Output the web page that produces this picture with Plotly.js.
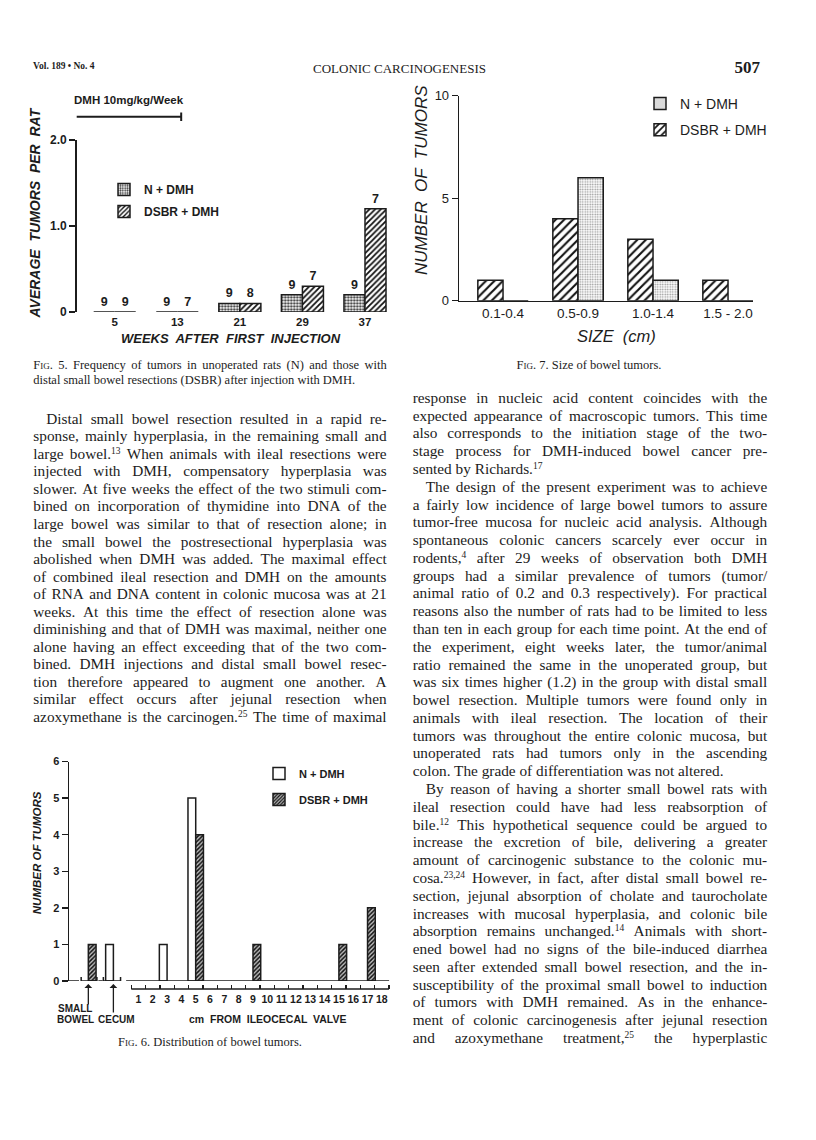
<!DOCTYPE html>
<html>
<head>
<meta charset="utf-8">
<script src="https://cdn.plot.ly/plotly-3.0.1.min.js"></script>
<style>
  body { margin: 0; background: #fff; }
  #page { position: relative; width: 816px; height: 1140px; overflow: hidden; background: #fff;
          font-family: "Liberation Serif", "Times New Roman", serif; color: #1c1c1c; }
  #chart { position: absolute; left: 0; top: 0; width: 816px; height: 1140px; }
  .ln { position: absolute; box-sizing: border-box; white-space: nowrap; }
  .ln.j { display: flex; justify-content: space-between; }
  sup { font-size: 0.62em; line-height: 0; vertical-align: 0.5em; }
  .sc { font-variant: small-caps; }
</style>
</head>
<body>
<div id="page">
  <div id="chart"></div>
</div>
<script>
// Fig. 5 - average tumors per rat, by weeks after first injection
const fig5Weeks = [5, 13, 21, 29, 37];
const fig5N = [0, 0, 0.1, 0.2, 0.2];
const fig5DSBR = [0, 0, 0.1, 0.3, 1.2];
const fig5NRats = [9, 9, 9, 9, 9];
const fig5DSBRRats = [9, 7, 8, 7, 7];
const fig5DmhWeeks = [0, 13];

// Fig. 7 - size of bowel tumors
const fig7Sizes = ["0.1-0.4", "0.5-0.9", "1.0-1.4", "1.5 - 2.0"];
const fig7N = [0, 6, 1, 0];
const fig7DSBR = [1, 4, 3, 1];

// Fig. 6 - distribution of bowel tumors (small bowel, cecum, then cm from ileocecal valve)
const fig6Sites = ["SMALL BOWEL", "CECUM", "1", "2", "3", "4", "5", "6", "7", "8", "9",
                   "10", "11", "12", "13", "14", "15", "16", "17", "18"];
const fig6N =    [0, 1, 0, 0, 1, 0, 5, 0, 0, 0, 0, 0, 0, 0, 0, 0, 0, 0, 0, 0];
const fig6DSBR = [1, 0, 0, 0, 0, 0, 4, 0, 0, 0, 1, 0, 0, 0, 0, 0, 1, 0, 2, 0];

const INK = "#1c1c1c";
const SANS = "Liberation Sans, Arial, sans-serif";
const W = 816, H = 1140;
const px = v => v / W;
const py = v => 1 - v / H;

// where each fig 6 site sits on the shared x axis
function sitePos(s) {
  if (s === "SMALL BOWEL") return -2.5;
  if (s === "CECUM") return -0.75;
  return Number(s);
}

const GAP = 0.328;
const bw5 = 8 * (1 - GAP) / 2;
const emptyWeekTicks = [];
fig5Weeks.forEach((w, i) => {
  if (fig5N[i] === 0 && fig5DSBR[i] === 0) emptyWeekTicks.push(w - bw5, w, w + bw5);
});

const bold = (size, extra) => Object.assign({ family: SANS, size: size, weight: "bold", color: INK }, extra || {});
const reg = (size, extra) => Object.assign({ family: SANS, size: size, color: INK }, extra || {});

const w6 = 0.54;
const f6N = fig6Sites.map((s, i) => ({ x: sitePos(s), y: fig6N[i] })).filter(d => d.y > 0);
const f6D = fig6Sites.map((s, i) => ({ x: sitePos(s), y: fig6DSBR[i] })).filter(d => d.y > 0);

const traces = [
  {
    type: "bar", name: "N + DMH", x: fig5Weeks, y: fig5N, xaxis: "x", yaxis: "y",
    text: fig5NRats.map(String), textposition: "outside", cliponaxis: false,
    textfont: bold(12.5), legend: "legend", legendgroup: "a1",
    marker: { color: "#fff", line: { color: INK, width: 1.5 },
              pattern: { shape: ".", fgcolor: "#333", bgcolor: "#fff", size: 3, solidity: 0.45 } }
  },
  {
    type: "bar", name: "DSBR + DMH", x: fig5Weeks, y: fig5DSBR, xaxis: "x", yaxis: "y",
    text: fig5DSBRRats.map(String), textposition: "outside", cliponaxis: false,
    textfont: bold(12.5), legend: "legend", legendgroup: "a2",
    marker: { color: "#fff", line: { color: INK, width: 1.5 },
              pattern: { shape: "/", fgcolor: "#111", bgcolor: "#fff", size: 4, solidity: 0.45 } }
  },
  {
    type: "bar", name: "DSBR + DMH", x: fig7Sizes, y: fig7DSBR, xaxis: "x2", yaxis: "y2",
    legend: "legend2", legendgroup: "b2", legendrank: 2,
    marker: { color: "#fff", line: { color: INK, width: 1.5 },
              pattern: { shape: "/", fgcolor: "#111", bgcolor: "#fff", size: 6, solidity: 0.35 } }
  },
  {
    type: "bar", name: "N + DMH", x: fig7Sizes, y: fig7N, xaxis: "x2", yaxis: "y2",
    legend: "legend2", legendgroup: "b1", legendrank: 1,
    marker: { color: "#fff", line: { color: INK, width: 1.5 },
              pattern: { shape: ".", fgcolor: "#999", bgcolor: "#fff", size: 2.5, solidity: 0.35 } }
  },
  {
    type: "bar", name: "N + DMH", x: f6N.map(d => d.x), y: f6N.map(d => d.y), xaxis: "x3", yaxis: "y3",
    width: w6, offset: -w6, legend: "legend3", legendgroup: "c1",
    marker: { color: "#fff", line: { color: INK, width: 1.5 } }
  },
  {
    type: "bar", name: "DSBR + DMH", x: f6D.map(d => d.x), y: f6D.map(d => d.y), xaxis: "x3", yaxis: "y3",
    width: w6, offset: 0, legend: "legend3", legendgroup: "c2",
    marker: { color: "#fff", line: { color: INK, width: 1.5 },
              pattern: { shape: "/", fgcolor: "#111", bgcolor: "#bbb", size: 3, solidity: 0.5 } }
  }
];

const halfTicks = [];
for (let k = 0; k <= 18; k++) halfTicks.push(k + 0.5);
const cmTicks = fig6Sites.filter(s => !isNaN(Number(s))).map(Number);

const noGrid = { showgrid: false, zeroline: false };
const lineStyle = { type: "line", line: { color: INK, width: 1.5 } };

// centred paper-positioned label
const label = (x, y, text, font, extra) => Object.assign({
  xref: "paper", yref: "paper", x: px(x), y: py(y), xanchor: "center", yanchor: "middle",
  showarrow: false, text: text, font: font
}, extra || {});

const layout = {
  width: W, height: H,
  margin: { l: 0, r: 0, t: 0, b: 0 },
  paper_bgcolor: "rgba(0,0,0,0)", plot_bgcolor: "rgba(0,0,0,0)",
  barmode: "group", bargap: GAP, bargroupgap: 0,
  showlegend: true,
  xaxis: Object.assign({}, noGrid, {
    domain: [px(76.7), px(389)], range: [0.14, 40.07], anchor: "y",
    tickmode: "array", tickvals: fig5Weeks, ticks: "", showline: false,
    ticklabelstandoff: 1, tickfont: bold(11.5)
  }),
  xaxis4: Object.assign({}, noGrid, {
    overlaying: "x", anchor: "y", range: [0.14, 40.07],
    tickmode: "array", tickvals: emptyWeekTicks, ticks: "inside", ticklen: 4,
    tickwidth: 1.5, tickcolor: INK, showticklabels: false, showline: false
  }),
  yaxis: Object.assign({}, noGrid, {
    domain: [py(312), py(140)], range: [0, 2], anchor: "x",
    tickmode: "array", tickvals: [0, 1, 2], ticktext: ["0", "1.0", "2.0"],
    ticks: "outside", ticklen: 6, tickwidth: 1.5, tickcolor: INK,
    showline: true, linewidth: 1.5, linecolor: INK, tickfont: bold(12)
  }),
  xaxis2: Object.assign({}, noGrid, {
    domain: [px(459), px(753)], anchor: "y2", type: "category",
    categoryorder: "array", categoryarray: fig7Sizes, range: [-0.587, 3.333],
    ticks: "", showline: true, linewidth: 1.3, linecolor: INK, tickfont: reg(13.5)
  }),
  yaxis2: Object.assign({}, noGrid, {
    domain: [py(300.7), py(95.7)], range: [0, 10], anchor: "x2",
    tickmode: "array", tickvals: [0, 5, 10],
    ticks: "outside", ticklen: 6, tickwidth: 1.3, tickcolor: INK,
    showline: true, linewidth: 1.3, linecolor: INK, tickfont: reg(13)
  }),
  xaxis3: Object.assign({}, noGrid, {
    domain: [px(69), px(389.3)], range: [-3.85, 18.52], anchor: "free", position: py(989),
    tickmode: "array", tickvals: cmTicks, ticks: "", showline: false, tickangle: 0,
    ticklabelstandoff: 2, tickfont: bold(10.5),
    minor: { tickmode: "array", tickvals: halfTicks, ticks: "inside", ticklen: 4,
             tickwidth: 1.3, tickcolor: INK, showgrid: false }
  }),
  yaxis3: Object.assign({}, noGrid, {
    domain: [py(981), py(761.5)], range: [0, 6], anchor: "x3",
    tickmode: "array", tickvals: [0, 1, 2, 3, 4, 5, 6],
    ticks: "outside", ticklen: 6, tickwidth: 1.5, tickcolor: INK,
    showline: true, linewidth: 1.5, linecolor: INK, tickfont: bold(11)
  }),
  legend: {
    x: px(104), y: py(175), xanchor: "left", yanchor: "top",
    bgcolor: "rgba(0,0,0,0)", font: bold(12), tracegroupgap: 3
  },
  legend2: {
    x: px(640), y: py(88), xanchor: "left", yanchor: "top",
    bgcolor: "rgba(0,0,0,0)", font: reg(14), tracegroupgap: 5
  },
  legend3: {
    x: px(259), y: py(759), xanchor: "left", yanchor: "top",
    bgcolor: "rgba(0,0,0,0)", font: bold(11), tracegroupgap: 7
  },
  shapes: [
    // injection period bracket, fig 5
    Object.assign({}, lineStyle, { xref: "x", yref: "paper", x0: fig5DmhWeeks[0] - 0.5, x1: fig5DmhWeeks[1] + 0.5,
      y0: py(116.7), y1: py(116.7), line: { color: INK, width: 2 } }),
    Object.assign({}, lineStyle, { xref: "x", yref: "paper", x0: fig5DmhWeeks[0] - 0.5, x1: fig5DmhWeeks[0] - 0.5,
      y0: py(112.5), y1: py(121), line: { color: INK, width: 2 } }),
    Object.assign({}, lineStyle, { xref: "x", yref: "paper", x0: fig5DmhWeeks[1] + 0.5, x1: fig5DmhWeeks[1] + 0.5,
      y0: py(112.5), y1: py(121), line: { color: INK, width: 2 } }),
    // fig 6 baseline pieces
    Object.assign({}, lineStyle, { xref: "x3", yref: "y3", x0: -3.85, x1: -3.15, y0: 0, y1: 0 }),
    { type: "path", xref: "x3", yref: "y3", path: "M-3.0,0.11 L-3.0,0 L-1.9,0 L-1.9,0.11", line: { color: INK, width: 1.5 } },
    Object.assign({}, lineStyle, { xref: "x3", yref: "y3", x0: -1.8, x1: -1.5, y0: 0, y1: 0 }),
    { type: "path", xref: "x3", yref: "y3", path: "M-1.45,0.11 L-1.45,0 L-0.25,0 L-0.25,0.11", line: { color: INK, width: 1.5 } },
    Object.assign({}, lineStyle, { xref: "x3", yref: "y3", x0: 0.14, x1: 18.52, y0: 0, y1: 0 }),
    // fig 6 cm ruler
    Object.assign({}, lineStyle, { xref: "x3", yref: "paper", x0: 0.5, x1: 18.5, y0: py(989), y1: py(989) })
  ],
  annotations: [
    label(71.7, 100, "DMH 10mg/kg/Week", bold(11.5), { xanchor: "left" }),
    label(35, 213.5, "AVERAGE  TUMORS  PER  RAT", bold(14, { style: "italic" }), { textangle: -90 }),
    label(231, 339, "WEEKS  AFTER  FIRST  INJECTION", bold(13, { style: "italic" })),

    label(421, 180, "NUMBER  OF  TUMORS", reg(17, { style: "italic" }), { textangle: -90 }),
    label(616, 336, "SIZE  (cm)", reg(16.5, { style: "italic" })),

    label(36.7, 852.5, "NUMBER OF TUMORS", bold(11.5, { style: "italic" }), { textangle: -90 }),
    label(75, 1008.3, "SMALL", bold(10)),
    label(75, 1019.3, "BOWEL", bold(10)),
    label(116, 1019.3, "CECUM", bold(10)),
    label(267.5, 1019.3, "cm  FROM  ILEOCECAL  VALVE", bold(10.5)),
    { xref: "x3", yref: "paper", x: sitePos("SMALL BOWEL"), y: py(984), ax: 0, ay: 22, text: "",
      showarrow: true, arrowhead: 1, arrowsize: 1, arrowwidth: 1.3, arrowcolor: INK },
    { xref: "x3", yref: "paper", x: sitePos("CECUM"), y: py(984), ax: 0, ay: 30, text: "",
      showarrow: true, arrowhead: 1, arrowsize: 1, arrowwidth: 1.3, arrowcolor: INK }
  ]
};

Plotly.newPlot("chart", traces, layout, { staticPlot: true, displayModeBar: false });

// ---- page text ----
const page = document.getElementById("page");
// ^12 -> superscript, ~Fig~ -> small caps
const fmt = s => s.replace(/\^([\d,]+)/g, "<sup>$1</sup>").replace(/~(\w+)~/g, '<span class="sc">$1</span>');

function put(text, opts) {
  const d = document.createElement("div");
  d.className = "ln" + (opts.justify ? " j" : "");
  const lh = opts.lh || opts.size * 1.2;
  d.style.fontSize = opts.size + "px";
  d.style.lineHeight = lh + "px";
  d.style.top = (opts.y - lh / 2 - opts.size * 0.1) + "px";
  if (opts.weight) d.style.fontWeight = opts.weight;
  if (opts.center !== undefined) {
    d.style.left = (opts.center - 200) + "px";
    d.style.width = "400px";
    d.style.textAlign = "center";
  } else if (opts.right !== undefined) {
    d.style.right = (W - opts.right) + "px";
  } else {
    d.style.left = opts.left + "px";
    if (opts.width) d.style.width = opts.width + "px";
  }
  if (opts.indent) d.style.paddingLeft = opts.indent + "px";
  if (opts.justify) {
    d.innerHTML = text.split(" ").filter(Boolean).map(w => "<span>" + fmt(w) + "</span>").join("");
  } else {
    d.innerHTML = fmt(text);
  }
  page.appendChild(d);
}

// header
put("Vol. 189 &bull; No. 4", { left: 33, y: 68, size: 9.5, weight: "bold" });
put("COLONIC CARCINOGENESIS", { left: 313, y: 70, size: 13 });
put("507", { right: 760, y: 70, size: 17, weight: "bold" });

// captions
put("~Fig~. 5. Frequency of tumors in unoperated rats (N) and those with",
    { left: 33.3, width: 353.4, y: 366.7, size: 12.5, justify: true });
put("distal small bowel resections (DSBR) after injection with DMH.",
    { left: 33.3, y: 381.7, size: 12.5 });
put("~Fig~. 7. Size of bowel tumors.", { center: 589, y: 366.7, size: 12.5 });
put("~Fig~. 6. Distribution of bowel tumors.", { center: 210, y: 1043.3, size: 12.5 });

// body columns: ">" starts an indented paragraph, "|" ends a paragraph
const leftLines = [
  ">Distal small bowel resection resulted in a rapid re-",
  "sponse, mainly hyperplasia, in the remaining small and",
  "large bowel.^13 When animals with ileal resections were",
  "injected with DMH, compensatory hyperplasia was",
  "slower. At five weeks the effect of the two stimuli com-",
  "bined on incorporation of thymidine into DNA of the",
  "large bowel was similar to that of resection alone; in",
  "the small bowel the postresectional hyperplasia was",
  "abolished when DMH was added. The maximal effect",
  "of combined ileal resection and DMH on the amounts",
  "of RNA and DNA content in colonic mucosa was at 21",
  "weeks. At this time the effect of resection alone was",
  "diminishing and that of DMH was maximal, neither one",
  "alone having an effect exceeding that of the two com-",
  "bined. DMH injections and distal small bowel resec-",
  "tion therefore appeared to augment one another. A",
  "similar effect occurs after jejunal resection when",
  "azoxymethane is the carcinogen.^25 The time of maximal"
];
const rightLines = [
  "response in nucleic acid content coincides with the",
  "expected appearance of macroscopic tumors. This time",
  "also corresponds to the initiation stage of the two-",
  "stage process for DMH-induced bowel cancer pre-",
  "sented by Richards.^17|",
  ">The design of the present experiment was to achieve",
  "a fairly low incidence of large bowel tumors to assure",
  "tumor-free mucosa for nucleic acid analysis. Although",
  "spontaneous colonic cancers scarcely ever occur in",
  "rodents,^4 after 29 weeks of observation both DMH",
  "groups had a similar prevalence of tumors (tumor/",
  "animal ratio of 0.2 and 0.3 respectively). For practical",
  "reasons also the number of rats had to be limited to less",
  "than ten in each group for each time point. At the end of",
  "the experiment, eight weeks later, the tumor/animal",
  "ratio remained the same in the unoperated group, but",
  "was six times higher (1.2) in the group with distal small",
  "bowel resection. Multiple tumors were found only in",
  "animals with ileal resection. The location of their",
  "tumors was throughout the entire colonic mucosa, but",
  "unoperated rats had tumors only in the ascending",
  "colon. The grade of differentiation was not altered.|",
  ">By reason of having a shorter small bowel rats with",
  "ileal resection could have had less reabsorption of",
  "bile.^12 This hypothetical sequence could be argued to",
  "increase the excretion of bile, delivering a greater",
  "amount of carcinogenic substance to the colonic mu-",
  "cosa.^23,24 However, in fact, after distal small bowel re-",
  "section, jejunal absorption of cholate and taurocholate",
  "increases with mucosal hyperplasia, and colonic bile",
  "absorption remains unchanged.^14 Animals with short-",
  "ened bowel had no signs of the bile-induced diarrhea",
  "seen after extended small bowel resection, and the in-",
  "susceptibility of the proximal small bowel to induction",
  "of tumors with DMH remained. As in the enhance-",
  "ment of colonic carcinogenesis after jejunal resection",
  "and azoxymethane treatment,^25 the hyperplastic"
];

function column(lines, left, width, y0, step) {
  lines.forEach((raw, i) => {
    const indent = raw.startsWith(">");
    const last = raw.endsWith("|");
    const s = raw.replace(/^>/, "").replace(/\|$/, "");
    put(s, { left: left, width: width, y: y0 + i * step, size: 15.3, lh: step,
             justify: !last, indent: indent ? 13 : 0 });
  });
}
column(leftLines, 33.3, 353.4, 420, 17.55);
column(rightLines, 412.7, 354.6, 399.3, 17.78);
</script>
</body>
</html>
